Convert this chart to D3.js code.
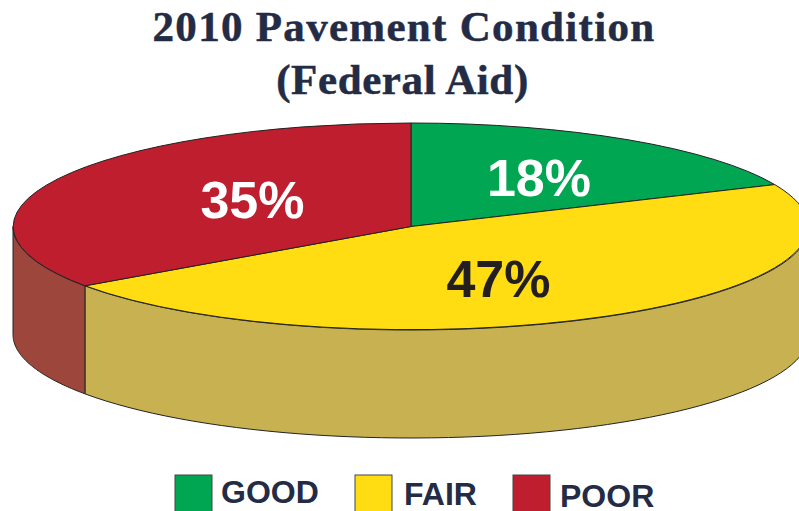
<!DOCTYPE html>
<html>
<head>
<meta charset="utf-8">
<script src="https://cdn.jsdelivr.net/npm/d3@7"></script>
<style>
html,body{margin:0;padding:0;background:#fff;overflow:hidden;}
svg{display:block;}
</style>
</head>
<body>
<div class="pie-container"></div>
<script>
const categories = ['GOOD','FAIR','POOR'];
const shares = [18,47,35];
// slice sizes as measured on the picture, the drawn pie is a bit off its labels
const drawnShares = [18.36,46.92,34.72];
const titleLines = ['2010 Pavement Condition','(Federal Aid)'];
const topColors = ['#00A651','#FFDD12','#BE1E2D'];
const sideColors = ['#007a3c','#C8B150','#9C463C'];

const svg_width = 799;
const svg_height = 511;
const cx = 411, cy = 226.5, rx = 398, ry = 103.5, depth = 108;

const this_svg = d3.select('.pie-container').append('svg')
    .attr('width',svg_width).attr('height',svg_height);

// Title
const titleX = [404,402.5];
const titleSpacing = ['1.3px','0.6px'];
this_svg.selectAll('.title').data(titleLines).enter().append('text')
    .attr('class','title')
    .attr('x',(d,i)=>titleX[i]).attr('y',(d,i)=>41+i*53)
    .attr('text-anchor','middle')
    .style('font-family','"Liberation Serif"')
    .style('font-weight','bold')
    .style('font-size','43px')
    .style('letter-spacing',(d,i)=>titleSpacing[i])
    .style('fill','#232B45')
    .style('stroke','#232B45')
    .style('stroke-width',0.5)
    .text(d=>d);

const pie = d3.pie().sort(null).value(d=>d);
const slices = pie(drawnShares);

// projected ellipse point, angle 0 at the top and going clockwise
const px = a => cx + rx*Math.sin(a);
const py = a => cy - ry*Math.cos(a);

// only the front half of the rim is visible, a in [PI/2, 3PI/2]
function wallPath(d){
    const a0 = Math.max(d.startAngle, Math.PI/2);
    const a1 = Math.min(d.endAngle, Math.PI*1.5);
    if(a0 >= a1) return null;
    const steps = d3.range(0,61).map(i=>a0+(a1-a0)*i/60);
    const area = d3.area().x(a=>px(a)).y0(a=>py(a)).y1(a=>py(a)+depth);
    return area(steps);
}

this_svg.append('g').selectAll('path').data(slices).enter().append('path')
    .attr('d',wallPath)
    .style('fill',(d,i)=>sideColors[i])
    .style('stroke','#222')
    .style('stroke-width',1);

// top face: unit radius arc squashed into the ellipse
const arc = d3.arc().innerRadius(0).outerRadius(1);
this_svg.append('g')
    .attr('transform',`translate(${cx},${cy}) scale(${rx},${ry})`)
    .selectAll('path').data(slices).enter().append('path')
    .attr('d',arc)
    .attr('vector-effect','non-scaling-stroke')
    .style('fill',(d,i)=>topColors[i])
    .style('stroke','#222')
    .style('stroke-width',1);

// Percent labels
const labelPos = [[539,196],[498.5,297],[252.5,218]];
const labelColors = ['#fff','#231F20','#fff'];
this_svg.selectAll('.pct').data(shares).enter().append('text')
    .attr('class','pct')
    .attr('x',(d,i)=>labelPos[i][0]).attr('y',(d,i)=>labelPos[i][1])
    .attr('text-anchor','middle')
    .style('font-family','"Liberation Sans"')
    .style('font-weight','bold')
    .style('font-size','52px')
    .style('fill',(d,i)=>labelColors[i])
    .text(d=>d+'%');

// Legend
const swatchX = [175,355,513];
const textX = [221,404,560];
const textY = [503,505,507];
this_svg.selectAll('.swatch').data(categories).enter().append('rect')
    .attr('class','swatch')
    .attr('x',(d,i)=>swatchX[i]).attr('y',475)
    .attr('width',37).attr('height',40)
    .style('fill',(d,i)=>topColors[i])
    .style('stroke','#444')
    .style('stroke-width',1);
this_svg.selectAll('.legend').data(categories).enter().append('text')
    .attr('class','legend')
    .attr('x',(d,i)=>textX[i]).attr('y',(d,i)=>textY[i])
    .style('font-family','"Liberation Sans"')
    .style('font-weight','bold')
    .style('font-size','32px')
    .style('fill','#232B45')
    .text(d=>d);
</script>
</body>
</html>
